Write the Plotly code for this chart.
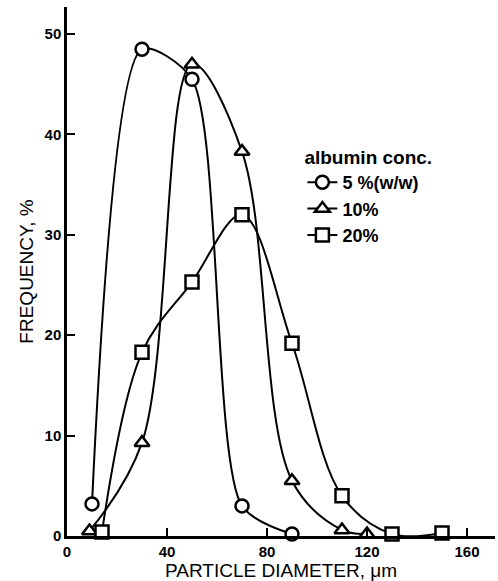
import plotly.graph_objects as go

# Data
x_5 = [10, 30, 50, 70, 90]
y_5 = [3.2, 48.5, 45.5, 3.0, 0.2]

x_10 = [9, 30, 50, 70, 90, 110, 120]
y_10 = [0.5, 9.3, 47.0, 38.3, 5.5, 0.6, 0.2]

x_20 = [14, 30, 50, 70, 90, 110, 130, 150]
y_20 = [0.4, 18.3, 25.3, 32.0, 19.2, 4.0, 0.2, 0.3]

series_names = ["5 %(w/w)", "10%", "20%"]
x_ticks = [0, 40, 80, 120, 160]
y_ticks = [0, 10, 20, 30, 40, 50]

FONT = "Liberation Sans"

fig = go.Figure()
for xs, ys, name, sym, sm in zip([x_5, x_10, x_20], [y_5, y_10, y_20], series_names,
                                 ["circle", "triangle-up", "square"], [0.75, 1.0, 1.0]):
    fig.add_trace(go.Scatter(
        x=xs, y=ys, name=name, mode="lines+markers",
        line=dict(color="black", width=2, shape="spline", smoothing=sm),
        marker=dict(symbol=sym, size=13, color="white",
                    line=dict(color="black", width=2.5)),
        cliponaxis=False,
    ))

fig.update_layout(
    width=498, height=581,
    margin=dict(l=67, r=3, t=7, b=45),
    paper_bgcolor="white", plot_bgcolor="white",
    font=dict(family=FONT, color="black"),
    showlegend=True,
    legend=dict(
        title=dict(text="albumin conc.", font=dict(size=19, family=FONT, weight="bold")),
        font=dict(size=18, family=FONT, weight="bold"),
        x=0.55, y=0.75, xanchor="left", yanchor="top",
        bgcolor="rgba(0,0,0,0)", itemwidth=30, tracegroupgap=0,
    ),
    xaxis=dict(
        range=[0, 171.2], tickvals=x_ticks, ticks="inside", ticklen=8, tickwidth=2,
        tickcolor="black", showline=True, linecolor="black", linewidth=2.5,
        showgrid=False, zeroline=False,
        tickfont=dict(size=15, family=FONT, weight="bold"),
        title=dict(text="PARTICLE DIAMETER, μm", font=dict(size=19, family=FONT), standoff=0),
    ),
    yaxis=dict(
        range=[0, 52.7], tickvals=y_ticks, ticks="inside", ticklen=8, tickwidth=2,
        tickcolor="black", showline=True, linecolor="black", linewidth=2.5,
        showgrid=False, zeroline=False,
        tickfont=dict(size=15, family=FONT, weight="bold"),
        title=dict(text="FREQUENCY, %", font=dict(size=19, family=FONT), standoff=6),
    ),
)

fig.write_html("out.html")
